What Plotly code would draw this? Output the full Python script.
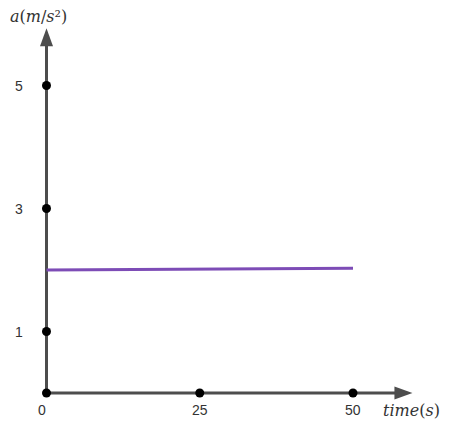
import plotly.graph_objects as go

# data
line_t = [0, 50]
line_a = [2.0, 2.03]
x_ticks = [0, 25, 50]
x_tick_labels = ["0", "25", "50"]
y_ticks = [1, 3, 5]
y_tick_labels = ["1", "3", "5"]
x_axis_end = 59.7
y_axis_end = 5.93

PX_X = 6.13
PX_Y = 61.5
BODY = 8  # default page margin
OX, OY = 46.5 - BODY, 393 - BODY
W, H = 449 - BODY, 425 - BODY
xr = [-OX / PX_X, (W - OX) / PX_X]
yr = [(OY - H) / PX_Y, OY / PX_Y]

axis_col = "#4d4d4d"
fig = go.Figure()

# axes lines
fig.add_trace(go.Scatter(x=[0, x_axis_end - 15 / PX_X], y=[0, 0], mode="lines",
                         line=dict(color=axis_col, width=3), hoverinfo="skip"))
fig.add_trace(go.Scatter(x=[0, 0], y=[0, y_axis_end - 15 / PX_Y], mode="lines",
                         line=dict(color=axis_col, width=3), hoverinfo="skip"))

# arrowheads (shapes computed from axis ends)
hl, hw = 18, 6.5
shapes = [
    dict(type="path", xref="x", yref="y", line=dict(width=0), fillcolor=axis_col,
         path=f"M {x_axis_end},0 L {x_axis_end - hl / PX_X},{hw / PX_Y} L {x_axis_end - hl / PX_X},{-hw / PX_Y} Z"),
    dict(type="path", xref="x", yref="y", line=dict(width=0), fillcolor=axis_col,
         path=f"M 0,{y_axis_end} L {hw / PX_X},{y_axis_end - hl / PX_Y} L {-hw / PX_X},{y_axis_end - hl / PX_Y} Z"),
]

# purple line
fig.add_trace(go.Scatter(x=line_t, y=line_a, mode="lines",
                         line=dict(color="#7d4cb6", width=3), hoverinfo="skip"))

# dots
dot_x = x_ticks + [0] * len(y_ticks)
dot_y = [0] * len(x_ticks) + y_ticks
fig.add_trace(go.Scatter(x=dot_x, y=dot_y, mode="markers",
                         marker=dict(color="black", size=9), hoverinfo="skip"))

annotations = []
tick_font = dict(family="Liberation Sans, Arial", size=14, color="#333333")
for xv, lab in zip(x_ticks, x_tick_labels):
    annotations.append(dict(x=xv - (0.7 if xv == 0 else 0), y=0, xref="x", yref="y", text=lab,
                            showarrow=False, yshift=-17, font=tick_font))
for yv, lab in zip(y_ticks, y_tick_labels):
    annotations.append(dict(x=0, y=yv, xref="x", yref="y", text=lab,
                            showarrow=False, xshift=-28, font=tick_font))

label_font = dict(family="DejaVu Serif, Liberation Serif, serif", size=16, color="#333333")
annotations.append(dict(x=x_axis_end - 0.2, y=0, xref="x", yref="y",
                        text="<i>time</i>(<i>s</i>)", showarrow=False, yshift=-17, font=label_font))
annotations.append(dict(x=-1.3, y=y_axis_end, xref="x", yref="y",
                        text="<i>a</i>(<i>m</i>/<i>s</i>²)", showarrow=False, yshift=12, font=label_font))

fig.update_layout(
    width=W, height=H, margin=dict(l=0, r=0, t=0, b=0),
    paper_bgcolor="white", plot_bgcolor="white", showlegend=False,
    xaxis=dict(range=xr, visible=False, fixedrange=True),
    yaxis=dict(range=yr, visible=False, fixedrange=True),
    annotations=annotations, shapes=shapes,
)
fig.write_html("out.html")
